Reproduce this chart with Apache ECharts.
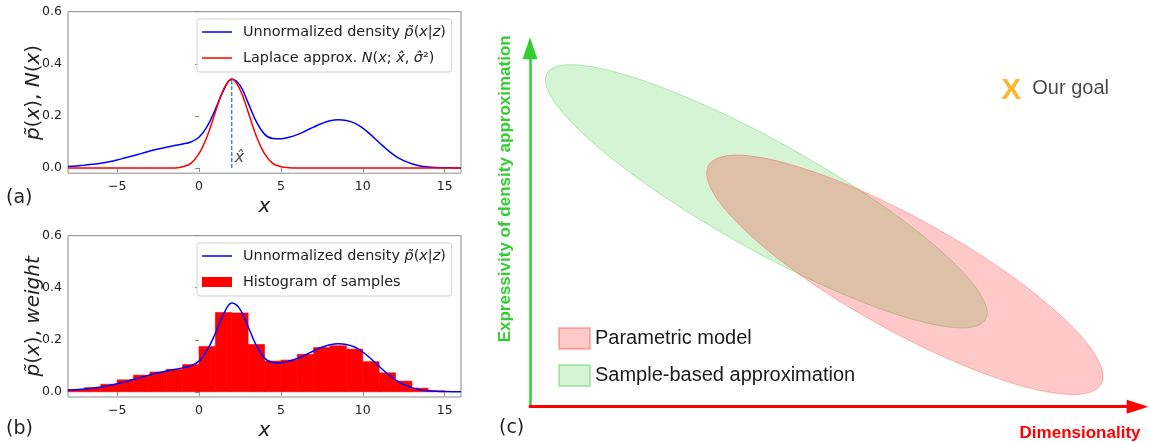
<!DOCTYPE html>
<html><head><meta charset="utf-8">
<script src="https://cdn.jsdelivr.net/npm/echarts@6/dist/echarts.min.js"></script>
<style>html,body{margin:0;padding:0;background:#fff}#c{width:1149px;height:442px}</style>
</head><body><div id="c"></div>
<script>
// ---------- data ----------
const xGrid = [-8,-7.5,-7,-6.5,-6,-5.5,-5,-4.5,-4,-3.5,-3,-2.5,-2,-1.5,-1,-0.5,0,0.5,1,1.5,2,2.5,3,3.5,4,4.5,5,5.5,6,6.5,7,7.5,8,8.5,9,9.5,10,10.5,11,11.5,12,12.5,13,13.5,14,14.5,15,15.5,16];
const densityVals = [0.006,0.008,0.011,0.014,0.018,0.024,0.031,0.039,0.047,0.056,0.065,0.073,0.080,0.086,0.092,0.100,0.118,0.160,0.225,0.298,0.341,0.318,0.250,0.178,0.130,0.113,0.112,0.118,0.128,0.142,0.157,0.171,0.181,0.185,0.182,0.172,0.153,0.127,0.098,0.070,0.046,0.028,0.016,0.008,0.004,0.002,0.001,0.0005,0.0003];
const laplaceVals = [0,0,0,0,0,0,0,0,0,0,0,0,0,0,0.005,0.018,0.055,0.122,0.215,0.302,0.342,0.302,0.215,0.122,0.055,0.018,0.005,0.001,0,0,0,0,0,0,0,0,0,0,0,0,0,0,0,0,0,0,0,0,0];
const xHat = 2.0;
const xHatPeak = 0.342;
const xHatLabelAt = [2.15, 0.04];
const binStarts = [-8,-7,-6,-5,-4,-3,-2,-1,0,1,2,3,4,5,6,7,8,9,10,11,12,13,14];
const binHeights = [0.009,0.016,0.029,0.046,0.064,0.076,0.086,0.105,0.174,0.305,0.303,0.182,0.118,0.122,0.144,0.170,0.177,0.164,0.116,0.073,0.041,0.014,0.004];
const binWidth = 1;
const xTicks = [-5,0,5,10,15];
const yTicks = [0,0.2,0.4,0.6];
const regionNames = ['Parametric model','Sample-based approximation'];
const regionCenters = [[6.17,3.68],[3.89,5.87]];
const regionMajor = [[3.23,-3.05],[3.61,-3.43]];
const regionMinor = [[-0.45,-1.36],[-0.43,-1.31]];
const goalPoint = [7.93, 8.81];
const goalLabel = 'Our goal';

// ---------- chart ----------
const DJ = 'DejaVu Sans';
const LS = 'Liberation Sans';
const TXT = '#222';
const SPINE = '#8a8a8a';
const LINE_ICON = 'path://M0,0L30,0L30,1.5L0,1.5Z';
const legendNames = {
  densA: 'Unnormalized density {i|p\u0303}({i|x}|{i|z})',
  lap: 'Laplace approx. {i|N}({i|x}; {i|x\u0302}, {i|\u03c3\u0302}\u00b2)',
  densB: 'Unnormalized density {i|p\u0303}({i|x}|{i|z})',
  hist: 'Histogram of samples'
};
const regionFill = ['rgba(255,0,0,0.21)','rgba(40,200,40,0.2)'];
const regionStroke = ['rgba(255,60,60,0.35)','rgba(40,190,40,0.3)'];

function pair(xs, ys){ return xs.map((x,i)=>[x, ys[i]]); }
const minusFmt = v => (v < 0 ? '\u2212' + Math.abs(v) : String(v));

function plotX(g){
  return {gridIndex:g, type:'value', min:-8, max:16,
    axisLine:{show:false}, splitLine:{show:false},
    axisTick:{show:true, customValues:xTicks, length:4, lineStyle:{color:SPINE}},
    axisLabel:{customValues:xTicks, formatter:minusFmt, color:TXT, fontFamily:DJ, fontSize:12.5, margin:7},
    name:'x', nameLocation:'middle', nameGap:24,
    nameTextStyle:{fontFamily:DJ, fontStyle:'italic', fontSize:20, color:TXT}};
}
function plotY(g, name){
  return {gridIndex:g, type:'value', min:-0.02, max:0.6,
    axisLine:{show:false}, splitLine:{show:false},
    axisTick:{show:true, customValues:yTicks, length:4, lineStyle:{color:SPINE}},
    axisLabel:{customValues:yTicks, formatter:v=>v.toFixed(1), color:TXT, fontFamily:DJ, fontSize:12.5, margin:6},
    name:name, nameLocation:'middle', nameGap:24, nameMoveOverlap:false,
    nameTextStyle:{fontFamily:DJ, fontSize:20, color:TXT,
      rich:{i:{fontFamily:DJ, fontStyle:'italic', fontSize:20, color:TXT}}}};
}
function plotLegend(top, items){
  return {show:true, orient:'vertical', left:197, top:top, data:items,
    selectedMode:false, itemWidth:30, itemHeight:10, itemGap:8, symbolKeepAspect:true,
    padding:[4,6,5,5], borderColor:'#d4d4d4', borderWidth:1, borderRadius:3,
    backgroundColor:'rgba(255,255,255,0.8)',
    formatter: n => legendNames[n],
    textStyle:{fontFamily:DJ, fontSize:14.4, color:TXT, lineHeight:18, padding:[0,0,0,6],
      rich:{i:{fontFamily:DJ, fontStyle:'italic', fontSize:14.4, color:TXT, lineHeight:18}}}};
}

function ellipseSeries(k){
  return {type:'custom', name:regionNames[k], xAxisIndex:2, yAxisIndex:2, clip:false,
    itemStyle:{color:regionFill[k], borderColor:regionStroke[k], borderWidth:1},
    data:[[regionCenters[k][0], regionCenters[k][1], regionMajor[k][0], regionMajor[k][1], regionMinor[k][0], regionMinor[k][1]]],
    encode:{x:0, y:1},
    renderItem:function(params, api){
      const cx=api.value(0), cy=api.value(1), ux=api.value(2), uy=api.value(3), vx=api.value(4), vy=api.value(5);
      const pts=[];
      for(let s=0;s<200;s++){
        const t=s/200*2*Math.PI, c=Math.cos(t), sn=Math.sin(t);
        pts.push(api.coord([cx+ux*c+vx*sn, cy+uy*c+vy*sn]));
      }
      return {type:'polygon', shape:{points:pts}, style:{fill:regionFill[k], stroke:regionStroke[k], lineWidth:1}};
    }};
}

const option = {
  animation:false,
  backgroundColor:'#fff',
  title:[
    {text:'(a)', left:6, top:189, padding:0, textStyle:{fontFamily:DJ, fontSize:19, fontWeight:'normal', color:TXT}},
    {text:'(b)', left:6, top:420, padding:0, textStyle:{fontFamily:DJ, fontSize:19, fontWeight:'normal', color:TXT}},
    {text:'(c)', left:499, top:419, padding:0, textStyle:{fontFamily:DJ, fontSize:19, fontWeight:'normal', color:TXT}}
  ],
  grid:[
    {left:68, top:11.7, width:393, height:161.5, show:true, borderColor:SPINE, borderWidth:1, backgroundColor:'transparent'},
    {left:68, top:235.7, width:393, height:162.9, show:true, borderColor:SPINE, borderWidth:1, backgroundColor:'transparent'},
    {left:530, top:48.3, width:607.5, height:358.4}
  ],
  xAxis:[
    plotX(0), plotX(1),
    {gridIndex:2, type:'value', min:0, max:10,
      axisLine:{show:true, onZero:false, symbol:['none','triangle'], symbolSize:[14,21.6], lineStyle:{color:'#ff0000', width:3}},
      axisTick:{show:false}, axisLabel:{show:false}, splitLine:{show:false},
      name:'Dimensionality', nameLocation:'end', nameGap:3,
      nameTextStyle:{fontFamily:LS, fontWeight:'bold', fontSize:17, color:'#ff0000', align:'right', verticalAlign:'top', padding:[18,0,0,0]}}
  ],
  yAxis:[
    plotY(0, '{i|p\u0303}({i|x}), {i|N}({i|x})'),
    plotY(1, '{i|p\u0303}({i|x}), {i|weight}'),
    {gridIndex:2, type:'value', min:0, max:10,
      axisLine:{show:true, onZero:false, symbol:['none','triangle'], symbolSize:[15,22], lineStyle:{color:'#32cd32', width:2.5}},
      axisTick:{show:false}, axisLabel:{show:false}, splitLine:{show:false},
      name:'Expressivity of density approximation', nameLocation:'end', nameGap:13, nameRotate:90,
      nameTextStyle:{fontFamily:LS, fontWeight:'bold', fontSize:17, color:'#32cd32', align:'right', verticalAlign:'bottom', padding:[0,0,16,0]}}
  ],
  legend:[
    plotLegend(19, [{name:'densA', icon:LINE_ICON},{name:'lap', icon:LINE_ICON}]),
    plotLegend(243, [{name:'densB', icon:LINE_ICON}, {name:'hist', icon:'rect'}]),
    {show:true, orient:'vertical', left:553, top:322, selectedMode:false,
      data:[{name:regionNames[0], icon:'rect'},{name:regionNames[1], icon:'rect'}],
      itemWidth:31, itemHeight:21, itemGap:14,
      textStyle:{fontFamily:LS, fontSize:20, color:'#1a1a1a'}}
  ],
  series:[
    {type:'line', name:'densA', xAxisIndex:0, yAxisIndex:0, data:pair(xGrid, densityVals), smooth:0.4, symbol:'none',
      lineStyle:{color:'#0000ff', width:1.5}, itemStyle:{color:'#0000ff'}, z:3},
    {type:'line', name:'lap', xAxisIndex:0, yAxisIndex:0, data:pair(xGrid, laplaceVals), smooth:0.4, symbol:'none',
      lineStyle:{color:'#ff0000', width:1.5}, itemStyle:{color:'#ff0000'}, z:4},
    {type:'line', name:'xhat', xAxisIndex:0, yAxisIndex:0, data:[[xHat,0],[xHat,xHatPeak]], symbol:'none',
      lineStyle:{color:'#1f77b4', width:1.2, type:[4,2]}, z:5},
    {type:'scatter', name:'xhatLabel', xAxisIndex:0, yAxisIndex:0, data:[xHatLabelAt], symbolSize:1,
      itemStyle:{color:'rgba(0,0,0,0)'},
      label:{show:true, position:'right', distance:0, formatter:'x\u0302', fontFamily:DJ, fontStyle:'italic', fontSize:16, color:TXT}},
    {type:'custom', name:'hist', xAxisIndex:1, yAxisIndex:1, data:pair(binStarts, binHeights), encode:{x:0,y:1},
      itemStyle:{color:'#ff0000'}, z:2,
      renderItem:function(params, api){
        const x0=api.value(0), h=api.value(1);
        const p0=api.coord([x0,h]), p1=api.coord([x0+binWidth,0]);
        return {type:'rect', shape:{x:p0[0], y:p0[1], width:p1[0]-p0[0], height:p1[1]-p0[1]},
          style:{fill:'#ff0000', stroke:'#ff0000', lineWidth:0.6}};
      }},
    {type:'line', name:'densB', xAxisIndex:1, yAxisIndex:1, data:pair(xGrid, densityVals), smooth:0.4, symbol:'none',
      lineStyle:{color:'#0000ff', width:1.5}, itemStyle:{color:'#0000ff'}, z:4},
    ellipseSeries(1),
    ellipseSeries(0),
    {type:'scatter', name:'goal', xAxisIndex:2, yAxisIndex:2, data:[goalPoint], symbolSize:1,
      itemStyle:{color:'rgba(0,0,0,0)'},
      label:{show:true, position:[0,0], offset:[-10,0], align:'left', verticalAlign:'middle',
        formatter:'{x|X}{g|' + goalLabel + '}',
        rich:{x:{fontFamily:LS, fontWeight:'bold', fontSize:30, color:'#ffa500', width:31},
              g:{fontFamily:LS, fontSize:20, color:'#1a1a1a', padding:[0,0,4,0]}}}}
  ]
};
const chart = echarts.init(document.getElementById('c'), null, {renderer:'canvas'});
chart.setOption(option);
</script></body></html>
